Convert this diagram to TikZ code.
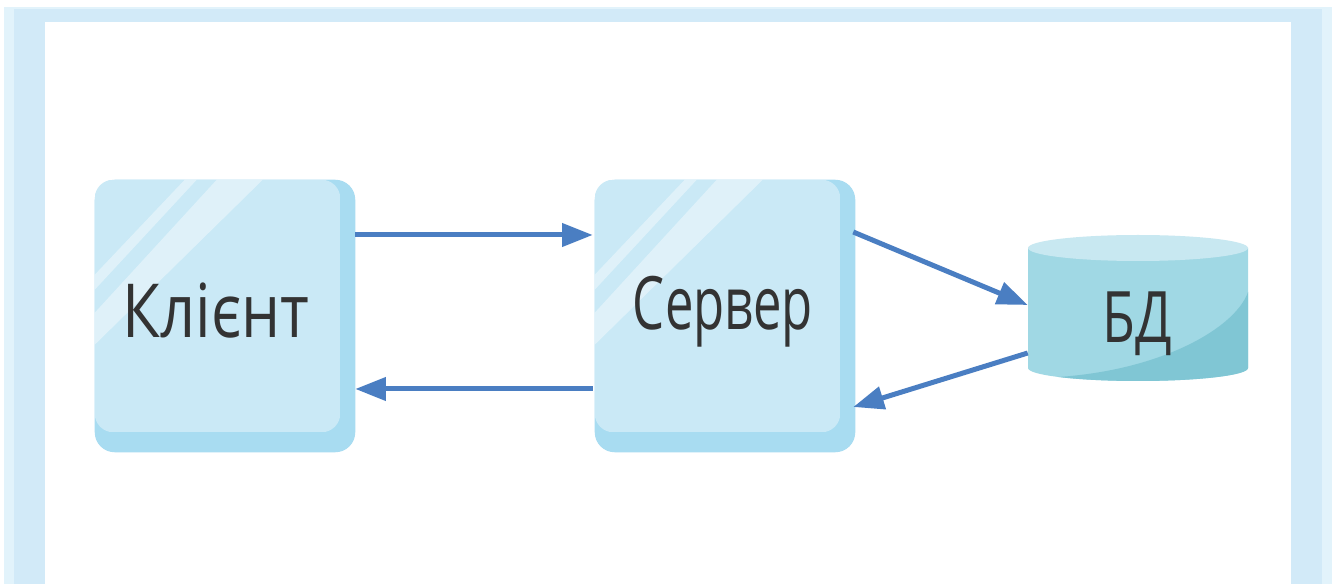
\documentclass[tikz,border=0pt]{standalone}
\usepackage{fontspec}
\usepackage{graphicx}
\setmainfont{Open Sans}
\usetikzlibrary{arrows.meta,calc}
\definecolor{framea}{HTML}{E2F3FB}
\definecolor{frameb}{HTML}{D2EAF8}
\definecolor{face}{HTML}{CAE9F6}
\definecolor{edge}{HTML}{A8DCF1}
\definecolor{cyltop}{HTML}{C8E8F1}
\definecolor{cylbody}{HTML}{A0D8E4}
\definecolor{cyldark}{HTML}{80C6D4}
\definecolor{arrowc}{HTML}{4A7EC2}
\definecolor{txt}{HTML}{333333}
\tikzset{
  boxnode/.style={minimum width=195pt,minimum height=204pt,inner sep=0pt},
  dbnode/.style={minimum width=165pt,minimum height=109.5pt,inner sep=0pt},
  label/.style={anchor=base,inner sep=0pt,text=txt},
  conn/.style={draw=arrowc,line width=3.75pt,-{Triangle[length=23pt,width=17pt]}},
  glare/.style={fill=white,fill opacity=0.4}
}
\newcommand\drawglass[1]{%
  \fill[edge,rounded corners=15pt] (#1.south west) rectangle (#1.north east);
  \begin{scope}
    \clip[rounded corners=14pt] (#1.north west) rectangle ($(#1.south east)+(-15,-20)$);
    \fill[face] (#1.north west) rectangle ($(#1.south east)+(-15,-20)$);
    \fill[glare] ($(#1.north west)+(90,0)$) -- ($(#1.north west)+(102,0)$) -- ($(#1.north west)+(0,110)$) -- ($(#1.north west)+(0,95)$) -- cycle;
    \fill[glare] ($(#1.north west)+(122,0)$) -- ($(#1.north west)+(168,0)$) -- ($(#1.north west)+(0,165)$) -- ($(#1.north west)+(0,133)$) -- cycle;
  \end{scope}}
\begin{document}
\begin{tikzpicture}[x=0.75pt,y=-0.75pt]
\useasboundingbox (0,0) rectangle (1336,584);
\fill[white] (0,0) rectangle (1336,584);
\fill[framea] (4,7) rectangle (1332,584);
\fill[frameb] (14,9) rectangle (1322,584);
\fill[white] (45,22) rectangle (1291,584);
% nodes
\node[boxnode] (client) at (225,316) {};
\node[boxnode] (server) at (725,316) {};
\node[dbnode] (db) at (1138,308) {};
\drawglass{client}
\drawglass{server}
% cylinder
\begin{scope}
  \clip (1028,248) -- (1028,368) arc[start angle=180,end angle=0,x radius=110,y radius=13] -- (1248,248) -- cycle;
  \fill[cylbody] (1020,230) rectangle (1256,390);
  \fill[cyldark] (1028,378) .. controls (1150,378) and (1235,330) .. (1248,292) -- (1260,292) -- (1260,395) -- (1020,395) -- cycle;
\end{scope}
\fill[cyltop] (1138,248) ellipse[x radius=110,y radius=13];
% labels
\node[label] (lclient) at (216,338) {\resizebox{140pt}{41pt}{Клієнт}};
\node[label] (lserver) at (723,330) {\resizebox{135pt}{40pt}{Сервер}};
\node[label] (ldb) at (1137,343) {\resizebox{52pt}{38pt}{БД}};
% connectors
\draw[conn] ($(client.east)+(0,-81)$) -- ($(server.west)+(-2,-81)$);
\draw[conn] ($(server.west)+(-2,73)$) -- ($(client.east)+(0,73)$);
\draw[conn] ($(server.east)+(-2,-84)$) -- ($(db.west)+(0,-3)$);
\draw[conn] ($(db.west)+(0,45)$) -- ($(server.east)+(-2,91)$);
\end{tikzpicture}
\end{document}
